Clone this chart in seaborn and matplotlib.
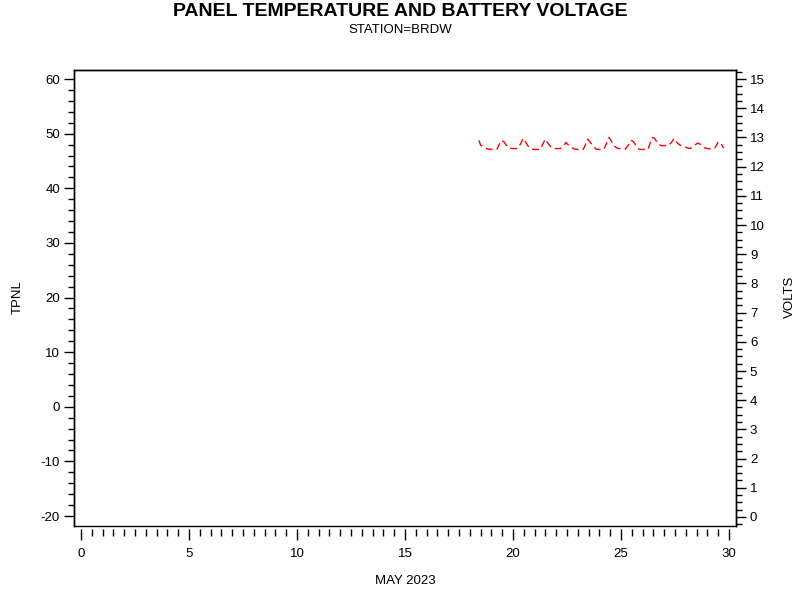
import pandas as pd
import matplotlib
matplotlib.use('Agg')
import matplotlib.pyplot as plt
from matplotlib.ticker import MultipleLocator
import seaborn as sns

# 电池电压数据 (日, 伏特)
days = [18.42, 18.50, 18.70, 18.85,
        19.00, 19.25, 19.35, 19.47, 19.58, 19.70, 19.85,
        20.00, 20.20, 20.35, 20.47, 20.55, 20.70, 20.85,
        21.00, 21.25, 21.38, 21.50, 21.60, 21.75, 21.85,
        22.00, 22.20, 22.35, 22.45, 22.55, 22.70, 22.85,
        23.00, 23.25, 23.35, 23.45, 23.55, 23.70, 23.85,
        24.00, 24.20, 24.33, 24.45, 24.55, 24.70, 24.85,
        25.00, 25.20, 25.35, 25.47, 25.57, 25.72, 25.85,
        26.00, 26.25, 26.35, 26.45, 26.55, 26.70, 26.85,
        27.00, 27.20, 27.35, 27.45, 27.55, 27.70, 27.85,
        28.00, 28.20, 28.35, 28.55, 28.70, 28.85,
        29.00, 29.20, 29.35, 29.50, 29.62, 29.75]
volts = [12.90, 12.74, 12.64, 12.60,
         12.59, 12.59, 12.75, 12.90, 12.85, 12.72, 12.63,
         12.62, 12.62, 12.78, 12.97, 12.88, 12.70, 12.60,
         12.59, 12.59, 12.78, 12.94, 12.82, 12.68, 12.62,
         12.62, 12.62, 12.72, 12.83, 12.75, 12.66, 12.60,
         12.59, 12.59, 12.75, 12.94, 12.86, 12.70, 12.60,
         12.59, 12.59, 12.80, 13.00, 12.88, 12.70, 12.62,
         12.62, 12.60, 12.75, 12.90, 12.86, 12.68, 12.59,
         12.59, 12.59, 12.82, 13.00, 12.97, 12.80, 12.72,
         12.72, 12.72, 12.85, 12.97, 12.85, 12.75, 12.70,
         12.66, 12.62, 12.70, 12.81, 12.75, 12.65,
         12.62, 12.60, 12.65, 12.85, 12.80, 12.63]

df = pd.DataFrame({'day': days, 'volts': volts})

sns.set_style('white')
plt.rcParams['font.family'] = ['Liberation Sans', 'DejaVu Sans']
plt.rcParams['font.size'] = 9.5
plt.rcParams['axes.unicode_minus'] = False
plt.rcParams['text.color'] = 'black'
plt.rcParams['xtick.color'] = 'black'
plt.rcParams['ytick.color'] = 'black'

fig = plt.figure(figsize=(8, 6), dpi=100)
ax = fig.add_axes([0.0925, 0.1233, 0.8275, 0.76])
ax2 = ax.twinx()

# 右轴：电压
sns.lineplot(data=df, x='day', y='volts', ax=ax2, color='red',
             linewidth=1, linestyle=(0, (5, 3)))

ax.set_xlim(-0.32, 30.32)
ax.set_ylim(-21.83, 61.65)
ax2.set_ylim(-0.31, 15.31)

ax.xaxis.set_major_locator(MultipleLocator(5))
ax.xaxis.set_minor_locator(MultipleLocator(0.5))
ax.yaxis.set_major_locator(MultipleLocator(10))
ax.yaxis.set_minor_locator(MultipleLocator(2))
ax2.yaxis.set_major_locator(MultipleLocator(1))
ax2.yaxis.set_minor_locator(MultipleLocator(0.25))

for a in (ax, ax2):
    for s in a.spines.values():
        s.set_color('black')
        s.set_linewidth(1)

# x 轴刻度与边框分开
ax.spines['bottom'].set_position(('outward', 2))
ax.spines['bottom'].set_color('none')

ax.tick_params(axis='x', which='major', direction='out', length=8, width=1,
               color='black', pad=6, bottom=True)
ax.tick_params(axis='x', which='minor', direction='out', length=5, width=1,
               color='black', bottom=True)
ax.tick_params(axis='y', which='major', direction='out', length=7, width=1,
               color='black', pad=3, left=True)
ax.tick_params(axis='y', which='minor', direction='out', length=4, width=1,
               color='black', left=True)
ax2.tick_params(axis='y', which='major', direction='out', length=7, width=1,
                color='black', pad=3, right=True)
ax2.tick_params(axis='y', which='minor', direction='out', length=4, width=1,
                color='black', right=True)
ax2.tick_params(axis='x', bottom=False)

ax.set_xlabel('')
ax.set_ylabel('')
ax2.set_xlabel('')
ax2.set_ylabel('')

# 轴标题
fig.text(405 / 800, 1 - 581 / 600, 'MAY 2023', ha='center', va='center')
fig.text(18 / 800, 1 - 297 / 600, 'TPNL', ha='center', va='center', rotation=90)
fig.text(790 / 800, 1 - 297 / 600, 'VOLTS', ha='center', va='center', rotation=90)

fig.text(0.5, 1 - 11 / 600, 'PANEL TEMPERATURE AND BATTERY VOLTAGE', ha='center',
         va='center', fontsize=14, fontweight='bold')
fig.text(0.5, 1 - 30 / 600, 'STATION=BRDW', ha='center', va='center', fontsize=9.5)

fig.savefig('out.png', dpi=100)
